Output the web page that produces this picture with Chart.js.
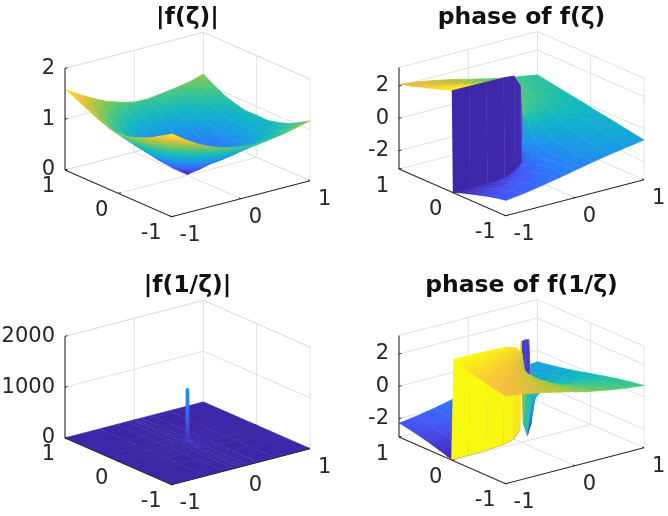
<!DOCTYPE html>
<html><head><meta charset="utf-8">
<script src="https://cdn.jsdelivr.net/npm/chart.js@4"></script>
<style>
html,body{margin:0;padding:0;background:#fff;overflow:hidden}
canvas{position:absolute;filter:blur(0.6px)}
</style></head><body>
<canvas id="c0" width="334" height="258" style="left:0;top:0"></canvas>
<canvas id="c1" width="334" height="258" style="left:334px;top:0"></canvas>
<canvas id="c2" width="334" height="258" style="left:0;top:258px"></canvas>
<canvas id="c3" width="334" height="258" style="left:334px;top:258px"></canvas>
<script>
// ---------- tick labels ----------
const edgeTicks = [-1, 0, 1];
const zTicksMag = [0, 1, 2];
const zTicksPhase = [-2, 0, 2];
const zTicksMagInv = [0, 1000, 2000];
const titles = ['|f(ζ)|', 'phase of f(ζ)', '|f(1/ζ)|', 'phase of f(1/ζ)'];

// ---------- colormap ----------
const parula = [[62,38,168],[72,82,244],[40,125,250],[23,160,225],[18,185,190],[70,200,130],[171,199,57],[251,188,65],[249,251,14]];

// ---------- |f(zeta)| ----------
const uMag = [-1,-.8,-.6,-.4,-.2,0,.2,.4,.6,.8,1];
const vMag = [-1,-.8,-.6,-.4,-.2,0,.2,.4,.6,.8,1];
const zMag = [
[1.63,1.44,1.28,1.16,1.07,1.02,1.00,1.01,1.05,1.11,1.18],
[1.50,1.30,1.13,.98,.87,.81,.80,.84,.89,.97,1.05],
[1.38,1.16,.96,.78,.66,.60,.61,.67,.75,.85,.94],
[1.28,1.03,.81,.61,.47,.40,.43,.52,.64,.75,.87],
[1.21,.96,.71,.48,.29,.20,.27,.41,.56,.69,.82],
[1.19,.93,.67,.43,.21,.02,.19,.37,.53,.68,.83],
[1.21,.96,.71,.48,.29,.20,.27,.41,.56,.69,.82],
[1.29,1.03,.81,.61,.47,.40,.43,.52,.64,.75,.87],
[1.39,1.16,.96,.78,.66,.60,.61,.67,.75,.85,.94],
[1.49,1.30,1.13,.98,.87,.81,.80,.84,.89,.97,1.05],
[1.59,1.42,1.27,1.14,1.05,.98,.97,1.01,1.05,1.10,1.18]];

// ---------- phase of f(zeta) ----------
const uPh = [-1,-.75,-.5,-.25,-.1,-.01,.01,.1,.25,.5,.75,1];
const vPh = [-1,-.75,-.5,-.25,-.1,-.01,.01,.1,.25,.5,.75,1];
const zPh = [
[-2.20,-2.06,-1.88,-1.67,-1.54,-1.46,-1.43,-1.36,-1.23,-1.03,-.85,-.68],
[-2.38,-2.25,-2.05,-1.79,-1.61,-1.50,-1.45,-1.36,-1.17,-.92,-.68,-.54],
[-2.61,-2.49,-2.30,-1.98,-1.72,-1.56,-1.50,-1.34,-1.08,-.72,-.50,-.39],
[-2.87,-2.80,-2.66,-2.35,-1.95,-1.63,-1.53,-1.21,-.81,-.47,-.30,-.25],
[-3.04,-3.01,-2.96,-2.77,-2.39,-1.72,-1.52,-.84,-.44,-.24,-.15,-.17],
[-3.14,-3.13,-3.13,-3.11,-3.05,-2.39,-.84,-.16,-.10,-.08,-.08,-.12],
[3.13,3.13,3.12,3.10,3.04,2.35,.78,.10,.04,.02,-.06,-.10],
[3.03,2.99,2.93,2.74,2.34,1.67,1.47,.77,.36,.18,.02,-.05],
[2.86,2.78,2.63,2.31,1.90,1.59,1.47,1.14,.73,.41,.16,.04],
[2.60,2.47,2.27,1.94,1.67,1.50,1.44,1.27,1.00,.66,.36,.18],
[2.31,2.17,1.96,1.69,1.50,1.37,1.33,1.23,1.03,.76,.50,.32],
[2.11,1.97,1.78,1.56,1.41,1.30,1.28,1.20,1.05,.82,.63,.46]];

// ---------- |f(1/zeta)| ----------
const uInv = [-1,-.5,-.25,-.1,-.03,-.012,-.007,.007,.012,.03,.1,.25,.5,1];
const vInv = [-1,-.5,-.25,-.1,-.03,-.012,-.007,.007,.012,.03,.1,.25,.5,1];
const zInv = [
[1,1,1,1,1,1,1,1,1,1,1,1,1,1],
[1,2,2,2,3,3,3,3,3,3,2,2,2,1],
[1,2,5,7,8,8,8,8,8,8,7,5,2,1],
[1,2,7,20,24,24,24,24,24,22,18,6,2,1],
[1,3,8,24,90,100,100,100,100,90,22,6,2,1],
[1,3,8,24,100,240,250,250,240,100,22,6,2,1],
[1,3,8,24,100,250,1070,1070,250,100,22,6,2,1],
[1,3,8,24,100,250,1070,1070,250,100,22,6,2,1],
[1,3,8,24,100,240,250,250,240,100,22,6,2,1],
[1,3,8,24,90,100,100,100,100,90,22,6,2,1],
[1,2,7,20,24,24,24,24,24,22,18,6,2,1],
[1,2,5,7,8,8,8,8,8,8,7,5,2,1],
[1,2,2,2,3,3,3,3,3,3,2,2,2,1],
[1,1,1,1,1,1,1,1,1,1,1,1,1,1]];

// ---------- phase of f(1/zeta) ----------
const uPhInv = [-1,-.75,-.5,-.25,-.1,-.01,.01,.07,.12,.14,.25,.5,.75,1];
const vPhInv = [-1,-.75,-.5,-.25,-.1,-.02,.02,.1,.25,.5,.75,1];
const zPhInv = [
[2.29,2.13,1.93,1.69,1.54,1.45,1.41,1.36,1.31,1.27,1.19,.99,.83,.71],
[2.44,2.27,2.04,1.74,1.53,1.41,1.36,1.29,1.23,1.18,1.07,.84,.68,.57],
[2.63,2.48,2.23,1.84,1.52,1.34,1.26,1.15,1.06,.99,.86,.62,.49,.40],
[2.87,2.77,2.59,2.14,1.57,1.16,.97,.75,.60,.51,.41,.32,.26,.21],
[3.03,2.99,2.90,2.63,1.97,.95,.30,-.26,-.38,-.26,.02,.12,.10,.08],
[3.12,3.11,3.09,3.03,2.85,2.40,-1.90,-2.75,-2.10,-.90,-.02,.02,.02,.02],
[-3.12,-3.11,-3.09,-3.03,-2.85,-2.40,3.05,3.10,3.05,1.00,.02,-.02,-.02,-.02],
[-3.03,-2.99,-2.90,-2.63,-1.97,-.95,-.30,.26,.38,.26,-.02,-.12,-.10,-.08],
[-2.87,-2.77,-2.59,-2.14,-1.57,-1.16,-.97,-.75,-.60,-.51,-.41,-.32,-.26,-.21],
[-2.63,-2.48,-2.23,-1.84,-1.52,-1.34,-1.26,-1.15,-1.06,-.99,-.86,-.62,-.49,-.40],
[-2.44,-2.27,-2.04,-1.74,-1.53,-1.41,-1.36,-1.29,-1.23,-1.18,-1.07,-.84,-.68,-.57],
[-2.29,-2.13,-1.93,-1.69,-1.54,-1.45,-1.41,-1.36,-1.31,-1.27,-1.19,-.99,-.83,-.71]];

// ---------- panel view settings ----------
const PI = Math.PI;
const panels = [
 {u:uMag, v:vMag, z:zMag, zt:zTicksMag, floor:0, top:2, cmin:0, cmax:1.63, y0:170, pz:50.83, tTop:4.3, tBot:2},
 {u:uPh, v:vPh, z:zPh, zt:zTicksPhase, floor:-PI, top:PI, cmin:-PI, cmax:PI, y0:118.3, pz:16.17, tTop:4.3, tBot:2},
 {u:uInv, v:vInv, z:zInv, zt:zTicksMagInv, floor:0, top:2000, cmin:0, cmax:3000, y0:180, pz:0.05083, tTop:14.3, tBot:0},
 {u:uPhInv, v:vPhInv, z:zPhInv, zt:zTicksPhase, floor:-PI, top:PI, cmin:-PI, cmax:PI, y0:128.3, pz:16.17, tTop:14.3, tBot:0}
];
const AREA_L = 65, AREA_R = 310, AREA_B = 233, TITLE_PX = 23.5, TITLE_LH = 27.4;
const INK = '#262626', GRID = '#e0e0e0';

function parulaAt(t){
  t = Math.max(0, Math.min(1, t)) * (parula.length - 1);
  const i = Math.min(parula.length - 2, Math.floor(t)), f = t - i;
  const a = parula[i], b = parula[i + 1];
  return 'rgb(' + a.map((c, k) => Math.round(c + (b[k] - c) * f)).join(',') + ')';
}

// Paint a cell with a linear gradient fitted to its four corner colour levels
function cellPaint(chart, corners, levels, flat){
  const {x, y} = chart.scales;
  if (!x || !y || !chart.chartArea) return parulaAt(flat);
  const p = corners.map(q => [x.getPixelForValue(q.x), y.getPixelForValue(q.y)]);
  const lo = Math.min(...levels), hi = Math.max(...levels);
  if (hi - lo > 0.4) return parulaAt(flat);
  const d1 = [p[2][0]-p[0][0], p[2][1]-p[0][1]], d2 = [p[3][0]-p[1][0], p[3][1]-p[1][1]];
  const e1 = levels[2]-levels[0], e2 = levels[3]-levels[1];
  const det = d1[0]*d2[1] - d1[1]*d2[0];
  if (!(Math.abs(det) >= 0.5)) return parulaAt(flat);
  const gx = (e1*d2[1] - e2*d1[1]) / det, gy = (d1[0]*e2 - d2[0]*e1) / det;
  const g2 = gx*gx + gy*gy;
  if (!(g2 >= 1e-9)) return parulaAt(flat);
  const mx = (p[0][0]+p[1][0]+p[2][0]+p[3][0])/4, my = (p[0][1]+p[1][1]+p[2][1]+p[3][1])/4;
  const mc = (levels[0]+levels[1]+levels[2]+levels[3])/4;
  const R = Math.max(hi-mc, mc-lo, 0.001) * 1.3;
  const ends = [mx-gx/g2*R, my-gy/g2*R, mx+gx/g2*R, my+gy/g2*R];
  if (!ends.every(Number.isFinite)) return parulaAt(flat);
  const gr = chart.ctx.createLinearGradient(ends[0], ends[1], ends[2], ends[3]);
  gr.addColorStop(0, parulaAt(mc-R));
  gr.addColorStop(0.5, parulaAt(mc));
  gr.addColorStop(1, parulaAt(mc+R));
  return gr;
}

function buildChart(p, idx){
  const proj = (u, v, z) => ({
    x: 69.2 * (u + 1) + 53.3 * (1 - v),
    y: z + (18 * (u + 1) - 23.33 * (1 - v)) / p.pz
  });
  const line = (pts, color, w) => ({
    data: pts.map(q => proj(q[0], q[1], q[2])),
    showLine: true, fill: false, borderColor: color, borderWidth: w,
    pointRadius: 0, clip: false, tension: 0
  });
  const level = z => (z - p.cmin) / (p.cmax - p.cmin);
  const datasets = [];
  // axes (top-most)
  const f = p.floor, tk = 0.035;
  datasets.push(line([[-1,1,f],[-1,-1,f],[1,-1,f]], INK, 1.1));
  datasets.push(line([[-1,1,f],[-1,1,p.top]], INK, 1.1));
  edgeTicks.forEach(t => {
    datasets.push(line([[-1,t,f],[-1+tk,t,f]], INK, 1));
    datasets.push(line([[t,-1,f],[t,-1+tk,f]], INK, 1));
  });
  p.zt.forEach(t => datasets.push(line([[-1,1,t],[-1+tk,1,t]], INK, 1)));
  // surface quads, nearest first (first dataset is painted last)
  for (let i = 0; i < p.u.length - 1; i++){
    for (let j = 0; j < p.v.length - 1; j++){
      const a = level(p.z[j][i]), b = level(p.z[j][i+1]);
      // a jump cell takes the colour of its more extreme lower-edge vertex
      const flat = Math.abs(a - 0.5) > Math.abs(b - 0.5) ? a : b;
      const q = [
        proj(p.u[i], p.v[j], p.z[j][i]),
        proj(p.u[i+1], p.v[j], p.z[j][i+1]),
        proj(p.u[i+1], p.v[j+1], p.z[j+1][i+1]),
        proj(p.u[i], p.v[j+1], p.z[j+1][i])
      ];
      const levels = [p.z[j][i], p.z[j][i+1], p.z[j+1][i+1], p.z[j+1][i]].map(level);
      const paint = c => cellPaint(c.chart, q, levels, p.cmin === 0 ? (a + b) / 2 : flat);
      datasets.push({data:q, showLine:true, fill:'shape', backgroundColor:paint, borderColor:paint,
        borderWidth:0.7, pointRadius:0, clip:false, tension:0});
    }
  }
  // back walls and floor grid
  const t = p.top;
  const walls = [
    [[-1,1,f],[1,1,f],[1,-1,f]], [[-1,1,t],[1,1,t],[1,-1,t]],
    [[0,1,f],[0,1,t]], [[1,1,f],[1,1,t]], [[1,0,f],[1,0,t]], [[1,-1,f],[1,-1,t]],
    [[0,-1,f],[0,1,f]], [[-1,0,f],[1,0,f]]
  ];
  walls.forEach(w => datasets.push(line(w, GRID, 1)));
  p.zt.forEach(z => datasets.push(line([[-1,1,z],[1,1,z],[1,-1,z]], GRID, 1)));

  const areaTop = p.tTop + TITLE_LH + p.tBot;
  const edgeLabels = {
    id: 'edgeLabels',
    afterDraw(chart){
      const {ctx, scales:{x, y}} = chart;
      ctx.save();
      ctx.font = '21px "DejaVu Sans"';
      ctx.fillStyle = INK;
      ctx.textBaseline = 'middle';
      edgeTicks.forEach(t => {
        const a = proj(-1, t, f);
        ctx.textAlign = 'right';
        ctx.fillText(String(t), x.getPixelForValue(a.x) - 10, y.getPixelForValue(a.y) + 17);
        const b = proj(t, -1, f);
        ctx.textAlign = 'left';
        ctx.fillText(String(t), x.getPixelForValue(b.x) + 8, y.getPixelForValue(b.y) + 19);
      });
      ctx.restore();
    }
  };
  new Chart(document.getElementById('c' + idx), {
    type: 'scatter',
    data: {datasets},
    plugins: [edgeLabels],
    options: {
      responsive: false, animation: false, events: [],
      layout: {padding: {left:0, right:334 - AREA_R, top:0, bottom:258 - AREA_B}},
      plugins: {
        legend: {display:false}, tooltip: {enabled:false},
        filler: {drawTime:'beforeDatasetDraw', propagate:false},
        title: {display:true, text:titles[idx], color:'#111', fullSize:false,
          font:{family:'"DejaVu Sans"', weight:'bold', size:TITLE_PX, lineHeight:TITLE_LH/TITLE_PX},
          padding:{top:p.tTop, bottom:p.tBot}}
      },
      scales: {
        x: {type:'linear', display:false, min:0, max:AREA_R - AREA_L},
        y: {type:'linear',
          min:(p.y0 - AREA_B) / p.pz, max:(p.y0 - areaTop) / p.pz,
          border:{display:false}, grid:{display:false, drawTicks:false, tickLength:0},
          afterFit: s => { s.width = AREA_L; },
          afterBuildTicks: s => { s.ticks = p.zt.map(value => ({value})); },
          ticks:{autoSkip:false, padding:10, color:INK, font:{family:'"DejaVu Sans"', size:21},
            callback: v => String(v)}
        }
      }
    }
  });
}
panels.forEach(buildChart);
</script>
</body></html>
